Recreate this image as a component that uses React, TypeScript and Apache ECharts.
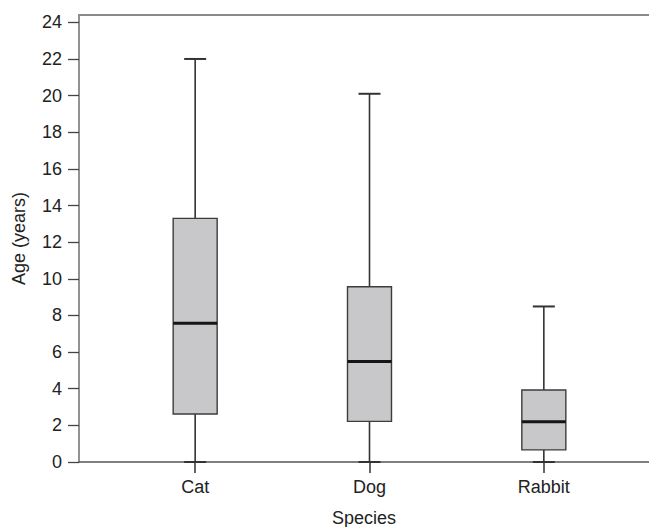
import React, { useEffect, useRef } from "react";
import * as echarts from "echarts";

const categories = ["Cat", "Dog", "Rabbit"];
const whiskerLow = [0, 0, 0];
const quartile1 = [2.62, 2.22, 0.66];
const medians = [7.57, 5.49, 2.2];
const quartile3 = [13.3, 9.57, 3.93];
const whiskerHigh = [22, 20.1, 8.49];
const yTickValues = [0, 2, 4, 6, 8, 10, 12, 14, 16, 18, 20, 22, 24];
const yMax = 24.4;

const FONT = "'Liberation Sans', Arial, Helvetica, sans-serif";

export default function App() {
  const ref = useRef<HTMLDivElement>(null);

  useEffect(() => {
    if (!ref.current) return;
    const chart = echarts.init(ref.current, undefined, { renderer: "svg" });

    const boxData = categories.map((_, i) => [
      i,
      whiskerLow[i],
      quartile1[i],
      medians[i],
      quartile3[i],
      whiskerHigh[i],
    ]);

    const axisGray = "#6e6e6e";

    const option: any = {
      animation: false,
      backgroundColor: "#ffffff",
      textStyle: { fontFamily: FONT },
      grid: [
        { left: 79, right: 0, top: 15, bottom: 65, containLabel: false, outerBoundsMode: "none" },
        { left: 108, right: 18, top: 15, bottom: 65, containLabel: false, outerBoundsMode: "none" },
      ],
      xAxis: [
        {
          type: "value",
          gridIndex: 0,
          min: 0,
          max: 1,
          position: "bottom",
          axisLine: { show: true, lineStyle: { color: "#555", width: 1.5 } },
          axisTick: { show: false },
          axisLabel: { show: false },
          splitLine: { show: false },
          name: "Species",
          nameLocation: "middle",
          nameGap: 47,
          nameTextStyle: { fontSize: 18, color: "#222", fontFamily: FONT },
        },
        {
          type: "value",
          gridIndex: 0,
          min: 0,
          max: 1,
          position: "top",
          axisLine: { show: true, lineStyle: { color: "#8a8a8a", width: 2 } },
          axisTick: { show: false },
          axisLabel: { show: false },
          splitLine: { show: false },
        },
        {
          type: "category",
          gridIndex: 1,
          data: categories,
          boundaryGap: true,
          axisLine: { show: false },
          axisTick: {
            show: true,
            alignWithLabel: true,
            length: 11,
            lineStyle: { color: "#333", width: 1.5 },
          },
          axisLabel: { fontSize: 18, color: "#222", margin: 16, fontFamily: FONT },
          splitLine: { show: false },
        },
      ],
      yAxis: [
        {
          type: "value",
          gridIndex: 0,
          min: 0,
          max: yMax,
          interval: 2,
          axisLine: { show: true, lineStyle: { color: axisGray, width: 1.5 } },
          axisTick: {
            show: true,
            length: 11,
            customValues: yTickValues,
            lineStyle: { color: "#444", width: 1.3 },
          },
          axisLabel: {
            fontSize: 18,
            color: "#222",
            margin: 17,
            customValues: yTickValues,
            fontFamily: FONT,
          },
          splitLine: { show: false },
          name: "Age (years)",
          nameLocation: "middle",
          nameGap: 51,
          nameTextStyle: { fontSize: 18, color: "#222", fontFamily: FONT },
        },
        {
          type: "value",
          gridIndex: 1,
          min: 0,
          max: yMax,
          show: false,
          splitLine: { show: false },
        },
      ],
      series: [
        {
          type: "custom",
          xAxisIndex: 2,
          yAxisIndex: 1,
          clip: false,
          encode: { x: 0, y: [1, 2, 3, 4, 5] },
          data: boxData,
          renderItem: (params: any, api: any) => {
            const idx = api.value(0);
            const pLo = api.coord([idx, api.value(1)]);
            const pQ1 = api.coord([idx, api.value(2)]);
            const pMed = api.coord([idx, api.value(3)]);
            const pQ3 = api.coord([idx, api.value(4)]);
            const pHi = api.coord([idx, api.value(5)]);
            const x = pLo[0];
            const boxHalf = 22;
            const capHalf = 11;
            const whiskerStyle = { stroke: "#333333", lineWidth: 1.6 };
            const capStyle = { stroke: "#333333", lineWidth: 2 };
            return {
              type: "group",
              children: [
                {
                  type: "line",
                  shape: { x1: x, y1: pLo[1], x2: x, y2: pQ1[1] },
                  style: whiskerStyle,
                },
                {
                  type: "line",
                  shape: { x1: x, y1: pQ3[1], x2: x, y2: pHi[1] },
                  style: whiskerStyle,
                },
                {
                  type: "line",
                  shape: { x1: x - capHalf, y1: pLo[1], x2: x + capHalf, y2: pLo[1] },
                  style: capStyle,
                },
                {
                  type: "line",
                  shape: { x1: x - capHalf, y1: pHi[1], x2: x + capHalf, y2: pHi[1] },
                  style: capStyle,
                },
                {
                  type: "rect",
                  shape: {
                    x: x - boxHalf,
                    y: pQ3[1],
                    width: boxHalf * 2,
                    height: pQ1[1] - pQ3[1],
                  },
                  style: { fill: "#c8c8ca", stroke: "#3c3c3c", lineWidth: 1.4 },
                },
                {
                  type: "line",
                  shape: { x1: x - boxHalf, y1: pMed[1], x2: x + boxHalf, y2: pMed[1] },
                  style: { stroke: "#151515", lineWidth: 3 },
                },
              ],
            };
          },
        },
      ],
    };

    chart.setOption(option);
    return () => chart.dispose();
  }, []);

  return (
    <div
      ref={ref}
      style={{ position: "fixed", left: 0, top: 0, width: 649, height: 527, background: "#fff" }}
    />
  );
}
